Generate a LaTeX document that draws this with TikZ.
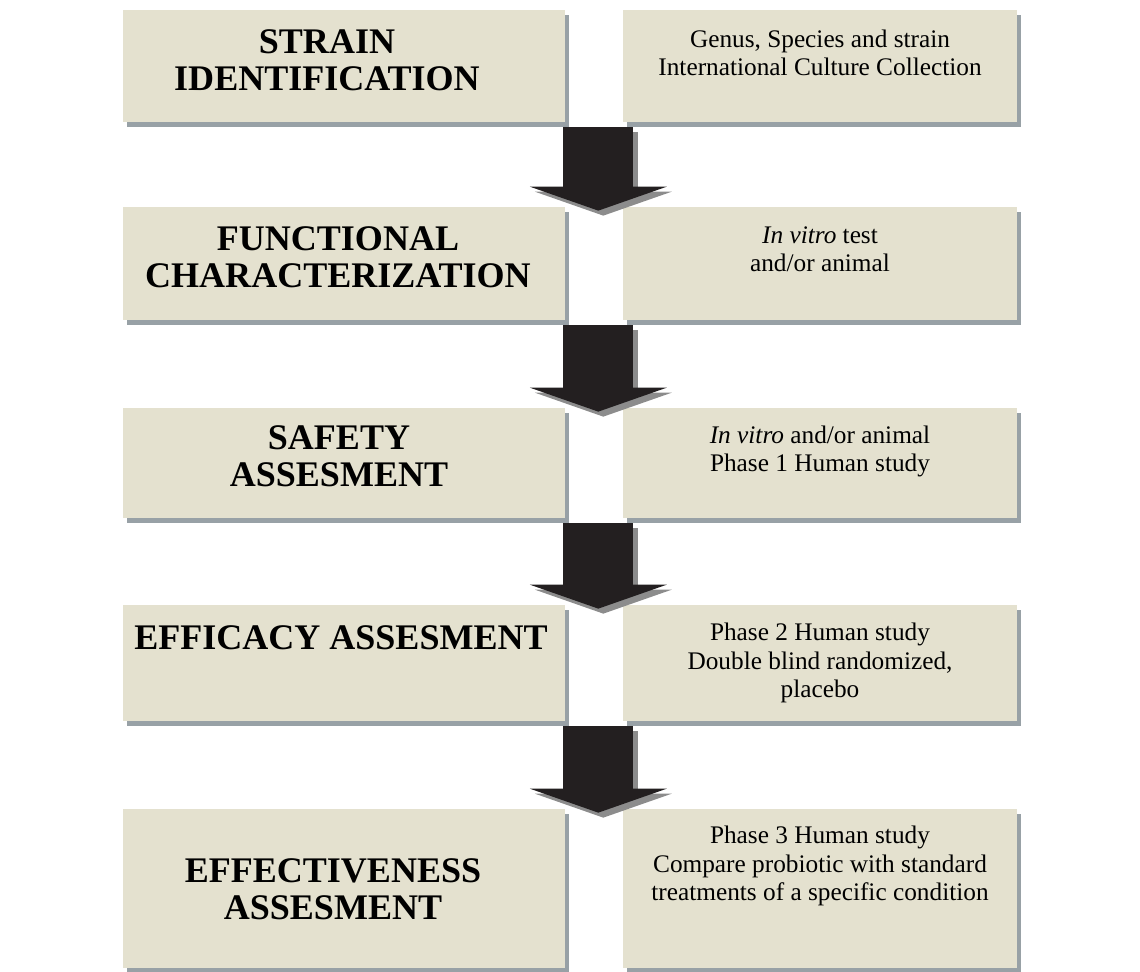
\documentclass[tikz,border=0pt]{standalone}
\usepackage{fontspec}
\setmainfont{Liberation Serif}
\usetikzlibrary{positioning,calc,shadows,arrows.meta}
\definecolor{boxfill}{RGB}{228,225,207}
\definecolor{shadegray}{RGB}{152,161,166}
\definecolor{arrowblack}{RGB}{35,31,32}
\definecolor{arrowshade}{RGB}{140,140,140}

\begin{document}
\begin{tikzpicture}[x=0.02cm, y=-0.02cm,
    stage/.style={fill=boxfill, inner sep=0pt, minimum width=8.84cm,
      drop shadow={shadow xshift=0.08cm, shadow yshift=-0.1cm, fill=shadegray, opacity=1}},
    detail/.style={stage, minimum width=7.88cm},
    stagetxt/.style={font=\fontsize{20.5}{21.6}\selectfont\bfseries, align=center, anchor=base, inner sep=0pt},
    detailtxt/.style={font=\fontsize{14.4}{16.5}\selectfont, align=center, anchor=base, inner sep=0pt},
    flow/.style={line width=1.4cm, arrowblack, -{Triangle[length=0.48cm, width=2.74cm, line width=0pt]}},
    flowshade/.style={flow, arrowshade}]
    \useasboundingbox (0,0) rectangle (1140,972);

    % left column: stages
    \node[stage, minimum height=2.24cm] (strainL) at (344,66) {};
    \node[stage, minimum height=2.26cm] (funcL) at (344,263.5) {};
    \node[stage, minimum height=2.2cm] (safeL) at (344,463) {};
    \node[stage, minimum height=2.32cm] (effiL) at (344,663) {};
    \node[stage, minimum height=3.18cm] (effeL) at (344,888.5) {};

    % right column: details
    \node[detail, minimum height=2.24cm] (strainR) at (820,66) {};
    \node[detail, minimum height=2.26cm] (funcR) at (820,263.5) {};
    \node[detail, minimum height=2.2cm] (safeR) at (820,463) {};
    \node[detail, minimum height=2.32cm] (effiR) at (820,663) {};
    \node[detail, minimum height=3.18cm] (effeR) at (820,888.5) {};

    % texts sit on the baseline of their last line
    \node[stagetxt] (strainT) at (327,91) {STRAIN\\IDENTIFICATION};
    \node[stagetxt] (funcT) at (338,288) {FUNCTIONAL\\CHARACTERIZATION};
    \node[stagetxt] (safeT) at (339,487) {SAFETY\\ASSESMENT};
    \node[stagetxt] (effiT) at (341,650) {EFFICACY ASSESMENT};
    \node[stagetxt] (effeT) at (333,920) {EFFECTIVENESS\\ASSESMENT};

    \node[detailtxt] (strainD) at (820,76) {Genus, Species and strain\\International Culture Collection};
    \node[detailtxt] (funcD) at (820,272) {\textit{In vitro} test\\and/or animal};
    \node[detailtxt] (safeD) at (820,472) {\textit{In vitro} and/or animal\\Phase 1 Human study};
    \node[detailtxt] (effiD) at (820,698) {Phase 2 Human study\\Double blind randomized,\\placebo};
    \node[detailtxt] (effeD) at (820,901) {Phase 3 Human study\\Compare probiotic with standard\\treatments of a specific condition};

    % block arrows between the stages
    \foreach \a/\b in {strainL/funcL, funcL/safeL, safeL/effiL, effiL/effeL} {
      \draw[flowshade] ($(\a.south east)+(38,10)$) -- ($(\b.north east)+(38,9)$);
      \draw[flow] ($(\a.south east)+(33,5)$) -- ($(\b.north east)+(33,4)$);
    }
\end{tikzpicture}
\end{document}
